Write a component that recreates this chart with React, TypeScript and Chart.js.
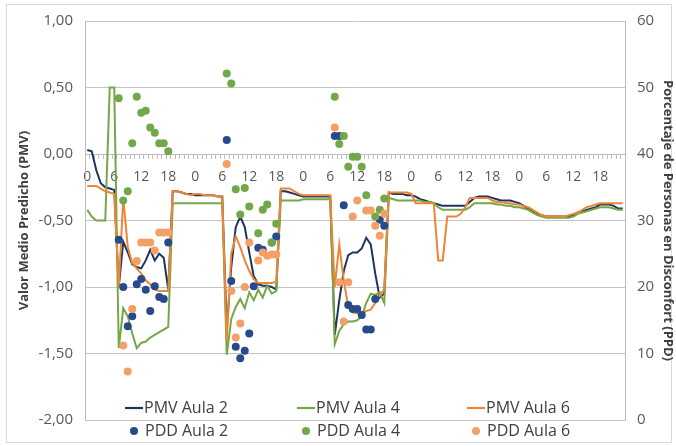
import React, { useEffect, useRef } from 'react';
import { Chart, registerables } from 'chart.js';

Chart.register(...registerables);

const N = null;

const dayHours = ['0','1','2','3','4','5','6','7','8','9','10','11','12','13','14','15','16','17','18','19','20','21','22','23'];
const categories = [...dayHours, ...dayHours, ...dayHours, ...dayHours, ...dayHours];

const pmvTicks = [-2, -1.5, -1, -0.5, 0, 0.5, 1];
const ppdTicks = [0, 10, 20, 30, 40, 50, 60];

const pmvAula2 = [
  0.03, 0.02, -0.12, -0.22, -0.25, -0.26, -0.27, -1.00, -0.66, -0.74, -0.83, -0.85,
  -0.86, -0.80, -0.72, -0.80, -0.75, -0.78, -1.02, -0.28, -0.28, -0.29, -0.30, -0.30,
  -0.31, -0.31, -0.31, -0.31, -0.31, -0.32, -0.32, -1.32, -0.85, -0.55, -0.47, -0.55,
  -0.74, -0.92, -0.98, -0.99, -0.99, -1.00, -1.02, -0.28, -0.28, -0.29, -0.30, -0.31,
  -0.32, -0.32, -0.32, -0.32, -0.32, -0.32, -0.32, -1.36, -1.10, -0.88, -0.76, -0.74,
  -0.74, -0.71, -0.63, -0.68, -0.90, -1.08, -1.05, -0.29, -0.30, -0.30, -0.30, -0.31,
  -0.31, -0.32, -0.34, -0.35, -0.36, -0.37, -0.38, -0.39, -0.39, -0.39, -0.39, -0.39,
  -0.39, -0.36, -0.33, -0.32, -0.32, -0.32, -0.33, -0.34, -0.35, -0.35, -0.35, -0.36,
  -0.37, -0.39, -0.41, -0.43, -0.45, -0.46, -0.47, -0.47, -0.47, -0.47, -0.47, -0.47,
  -0.46, -0.44, -0.43, -0.42, -0.41, -0.40, -0.38, -0.38, -0.38, -0.39, -0.41, -0.41,
];

const pmvAula4 = [
  -0.42, -0.47, -0.50, -0.50, -0.50, 0.50, 0.50, -1.46, -1.16, -1.22, -1.35, -1.46,
  -1.42, -1.41, -1.38, -1.36, -1.34, -1.32, -1.30, -0.37, -0.37, -0.37, -0.37, -0.37,
  -0.37, -0.37, -0.37, -0.37, -0.37, -0.37, -0.37, -1.51, -1.24, -1.15, -1.09, -1.16,
  -1.04, -1.10, -1.02, -1.08, -0.99, -1.05, -1.03, -0.35, -0.35, -0.35, -0.35, -0.35,
  -0.34, -0.34, -0.34, -0.34, -0.34, -0.34, -0.34, -1.43, -1.33, -1.28, -1.26, -1.26,
  -1.25, -1.22, -1.12, -1.05, -1.06, -1.04, -1.12, -0.33, -0.34, -0.35, -0.35, -0.35,
  -0.35, -0.35, -0.35, -0.36, -0.36, -0.37, -0.40, -0.42, -0.42, -0.42, -0.42, -0.42,
  -0.42, -0.40, -0.37, -0.37, -0.37, -0.37, -0.37, -0.38, -0.38, -0.39, -0.39, -0.40,
  -0.40, -0.41, -0.42, -0.44, -0.46, -0.47, -0.48, -0.48, -0.48, -0.48, -0.48, -0.48,
  -0.47, -0.45, -0.44, -0.43, -0.42, -0.41, -0.40, -0.40, -0.40, -0.41, -0.42, -0.42,
];

const pmvAula6 = [
  -0.24, -0.24, -0.24, -0.26, -0.28, -0.29, -0.30, -1.00, -0.33, -0.70, -0.82, -0.86,
  -0.90, -0.95, -0.98, -1.02, -1.03, -1.03, -1.03, -0.28, -0.28, -0.29, -0.30, -0.31,
  -0.30, -0.30, -0.31, -0.31, -0.31, -0.32, -0.32, -1.40, -0.75, -0.62, -0.70, -0.80,
  -0.88, -0.94, -0.97, -0.97, -0.97, -0.97, -0.96, -0.26, -0.26, -0.26, -0.28, -0.30,
  -0.31, -0.31, -0.31, -0.31, -0.31, -0.31, -0.31, -1.00, -0.68, -0.95, -1.15, -1.19,
  -1.20, -1.20, -1.18, -1.17, -1.12, -1.06, -1.02, -0.29, -0.29, -0.29, -0.29, -0.29,
  -0.30, -0.37, -0.37, -0.37, -0.37, -0.37, -0.80, -0.80, -0.47, -0.47, -0.47, -0.45,
  -0.40, -0.33, -0.33, -0.33, -0.33, -0.33, -0.35, -0.36, -0.36, -0.37, -0.37, -0.38,
  -0.38, -0.39, -0.40, -0.42, -0.44, -0.46, -0.47, -0.47, -0.47, -0.47, -0.47, -0.46,
  -0.45, -0.44, -0.42, -0.40, -0.39, -0.38, -0.37, -0.37, -0.37, -0.37, -0.37, -0.37,
];

const ppdAula2 = [
  N, N, N, N, N, N, N, 27.1, 20.0, 14.1, 15.6, 20.4, 21.2, 19.6, 16.4, 20.1, 18.5, 18.2, 26.7, N, N, N, N, N,
  N, N, N, N, N, N, N, 42.1, 20.9, 11.0, 9.3, 10.4, 13.0, 20.1, 25.9, 25.6, N, 26.7, 27.6, N, N, N, N, N,
  N, N, N, N, N, N, N, 42.7, 42.7, 32.3, 17.3, 16.7, 16.7, 15.8, 13.6, 13.6, 18.2, 30.1, 29.2, N, N, N, N, N,
  N, N, N, N, N, N, N, N, N, N, N, N, N, N, N, N, N, N, N, N, N, N, N, N,
  N, N, N, N, N, N, N, N, N, N, N, N, N, N, N, N, N, N, N, N, N, N, N, N,
];

const ppdAula4 = [
  N, N, N, N, N, N, N, 48.4, 33.0, 34.4, 41.6, 48.6, 46.2, 46.5, 44.0, 43.2, 41.6, 41.6, 40.4, N, N, N, N, N,
  N, N, N, N, N, N, N, 52.1, 50.6, 34.7, 30.9, 34.9, 32.1, N, 28.1, 31.6, 32.4, 26.7, 29.5, N, N, N, N, N,
  N, N, N, N, N, N, N, 48.6, 41.5, 42.7, 38.1, 39.6, 39.6, 38.1, 33.8, N, 30.6, 31.6, 33.3, N, N, N, N, N,
  N, N, N, N, N, N, N, N, N, N, N, N, N, N, N, N, N, N, N, N, N, N, N, N,
  N, N, N, N, N, N, N, N, N, N, N, N, N, N, N, N, N, N, N, N, N, N, N, N,
];

const ppdAula6 = [
  N, N, N, N, N, N, N, N, 11.2, 7.3, 16.7, 23.9, 26.7, 26.7, 26.7, 25.5, 28.2, 28.2, 28.2, N, N, N, N, N,
  N, N, N, N, N, N, N, 38.5, 19.4, 12.4, 14.5, 20.0, 26.7, N, 24.0, 25.2, 24.7, 24.9, 24.9, N, N, N, N, N,
  N, N, N, N, N, N, N, 44.0, 20.7, 14.8, 20.7, 30.6, 33.0, N, 31.5, 31.5, 29.2, 27.7, 31.0, N, N, N, N, N,
  N, N, N, N, N, N, N, N, N, N, N, N, N, N, N, N, N, N, N, N, N, N, N, N,
  N, N, N, N, N, N, N, N, N, N, N, N, N, N, N, N, N, N, N, N, N, N, N, N,
];

const NAVY_LINE = '#1f3560';
const GREEN_LINE = '#76a646';
const ORANGE_LINE = '#ec8636';
const NAVY_DOT = '#274b8a';
const GREEN_DOT = '#73a84a';
const ORANGE_DOT = '#f2a065';
const TEXT = '#404040';
const TICK = '#595959';
const GRID = '#c4c4c4';

const legendItems = [
  { label: 'PMV Aula 2', color: NAVY_LINE, kind: 'line', col: 0, row: 0 },
  { label: 'PMV Aula 4', color: GREEN_LINE, kind: 'line', col: 1, row: 0 },
  { label: 'PMV Aula 6', color: ORANGE_LINE, kind: 'line', col: 2, row: 0 },
  { label: 'PDD Aula 2', color: NAVY_DOT, kind: 'dot', col: 0, row: 1 },
  { label: 'PDD Aula 4', color: GREEN_DOT, kind: 'dot', col: 1, row: 1 },
  { label: 'PDD Aula 6', color: ORANGE_DOT, kind: 'dot', col: 2, row: 1 },
];

const fmt = (v: number) => v.toFixed(2).replace('.', ',');

export default function App() {
  const ref = useRef<HTMLCanvasElement | null>(null);

  useEffect(() => {
    document.body.style.margin = '0';
    const canvas = ref.current;
    if (!canvas) return;

    const frame = {
      id: 'frame',
      beforeDraw(chart: any) {
        const ctx = chart.ctx;
        ctx.save();
        ctx.fillStyle = '#ffffff';
        ctx.fillRect(0, 0, chart.width, chart.height);
        ctx.strokeStyle = '#d9d9d9';
        ctx.lineWidth = 1;
        ctx.strokeRect(6.5, 4.5, 665, 438);
        ctx.restore();
      },
    };

    const legend = {
      id: 'customLegend',
      afterDraw(chart: any) {
        const ctx = chart.ctx;
        const left = chart.chartArea.left;
        const colX = [left + 40, left + 212, left + 382];
        const rowY = [chart.chartArea.bottom - 12, chart.chartArea.bottom + 11];
        ctx.save();
        ctx.font = "16px 'Open Sans', sans-serif";
        ctx.textBaseline = 'middle';
        ctx.fillStyle = TEXT;
        for (const it of legendItems) {
          const x = colX[it.col];
          const y = rowY[it.row];
          if (it.kind === 'line') {
            ctx.strokeStyle = it.color;
            ctx.lineWidth = 2.2;
            ctx.beginPath();
            ctx.moveTo(x, y);
            ctx.lineTo(x + 18, y);
            ctx.stroke();
            ctx.fillStyle = TEXT;
            ctx.fillText(it.label, x + 19, y);
          } else {
            ctx.fillStyle = it.color;
            ctx.beginPath();
            ctx.arc(x + 9, y, 4, 0, Math.PI * 2);
            ctx.fill();
            ctx.fillStyle = TEXT;
            ctx.fillText(it.label, x + 20, y);
          }
        }
        ctx.restore();
      },
    };

    const lineDs = (label: string, data: number[], color: string, order: number) => ({
      type: 'line' as const,
      label,
      data,
      yAxisID: 'y',
      borderColor: color,
      backgroundColor: color,
      borderWidth: 2,
      pointRadius: 0,
      tension: 0,
      order,
    });
    const dotDs = (label: string, data: (number | null)[], color: string, order: number) => ({
      type: 'line' as const,
      label,
      data,
      yAxisID: 'y1',
      showLine: false,
      borderColor: color,
      backgroundColor: color,
      pointRadius: 4,
      pointBorderWidth: 0,
      pointBackgroundColor: color,
      order,
    });

    const chart = new Chart(canvas, {
      type: 'line',
      data: {
        labels: categories,
        datasets: [
          lineDs('PMV Aula 2', pmvAula2, NAVY_LINE, 7),
          lineDs('PMV Aula 4', pmvAula4, GREEN_LINE, 6),
          lineDs('PMV Aula 6', pmvAula6, ORANGE_LINE, 5),
          dotDs('PDD Aula 2', ppdAula2, NAVY_DOT, 4),
          dotDs('PDD Aula 4', ppdAula4, GREEN_DOT, 3),
          dotDs('PDD Aula 6', ppdAula6, ORANGE_DOT, 2),
        ],
      },
      options: {
        responsive: false,
        animation: false,
        devicePixelRatio: 1,
        layout: { padding: { top: 15, bottom: 26, left: 0, right: 0 } },
        plugins: { legend: { display: false }, tooltip: { enabled: false } },
        scales: {
          x: {
            type: 'category',
            position: { y: 0 } as any,
            offset: true,
            grid: {
              display: true,
              drawOnChartArea: false,
              drawTicks: true,
              tickLength: 4,
              offset: true,
              color: '#bdbdbd',
            },
            border: { display: true, color: '#bdbdbd' },
            ticks: {
              autoSkip: false,
              maxRotation: 0,
              minRotation: 0,
              padding: 11,
              color: TICK,
              font: { size: 14, family: "'Open Sans', sans-serif" },
              callback: (_v: any, i: number) => (i % 6 === 0 ? categories[i] : ''),
            },
          },
          y: {
            type: 'linear',
            position: 'left',
            min: -2,
            max: 1,
            afterBuildTicks: (s: any) => { s.ticks = pmvTicks.map((v) => ({ value: v })); },
            afterFit: (s: any) => { s.width = 85; },
            grid: { color: GRID, drawTicks: false },
            border: { display: true, color: '#bdbdbd' },
            ticks: {
              padding: 12,
              color: TICK,
              font: { size: 15, family: "'Open Sans', sans-serif" },
              callback: (v: any) => fmt(Number(v)),
            },
            title: {
              display: true,
              text: 'Valor Medio Predicho (PMV)',
              color: TEXT,
              font: { size: 13, weight: 'bold', family: "'Open Sans', sans-serif" },
              padding: { top: 16, bottom: 0 },
            },
          },
          y1: {
            type: 'linear',
            position: 'right',
            min: 0,
            max: 60,
            afterBuildTicks: (s: any) => { s.ticks = ppdTicks.map((v) => ({ value: v })); },
            afterFit: (s: any) => { s.width = 51; },
            grid: { drawOnChartArea: false, drawTicks: false },
            border: { display: true, color: '#bdbdbd' },
            ticks: {
              padding: 12,
              color: TICK,
              font: { size: 15, family: "'Open Sans', sans-serif" },
              callback: (v: any) => String(v),
            },
            title: {
              display: true,
              text: 'Porcentaje de Personas en Disconfort (PPD)',
              color: TEXT,
              font: { size: 13, weight: 'bold', family: "'Open Sans', sans-serif" },
              padding: { top: 0, bottom: 0 },
            },
          },
        },
      },
      plugins: [frame, legend],
    });

    return () => chart.destroy();
  }, []);

  return <canvas ref={ref} width={676} height={446} style={{ display: 'block' }} />;
}
